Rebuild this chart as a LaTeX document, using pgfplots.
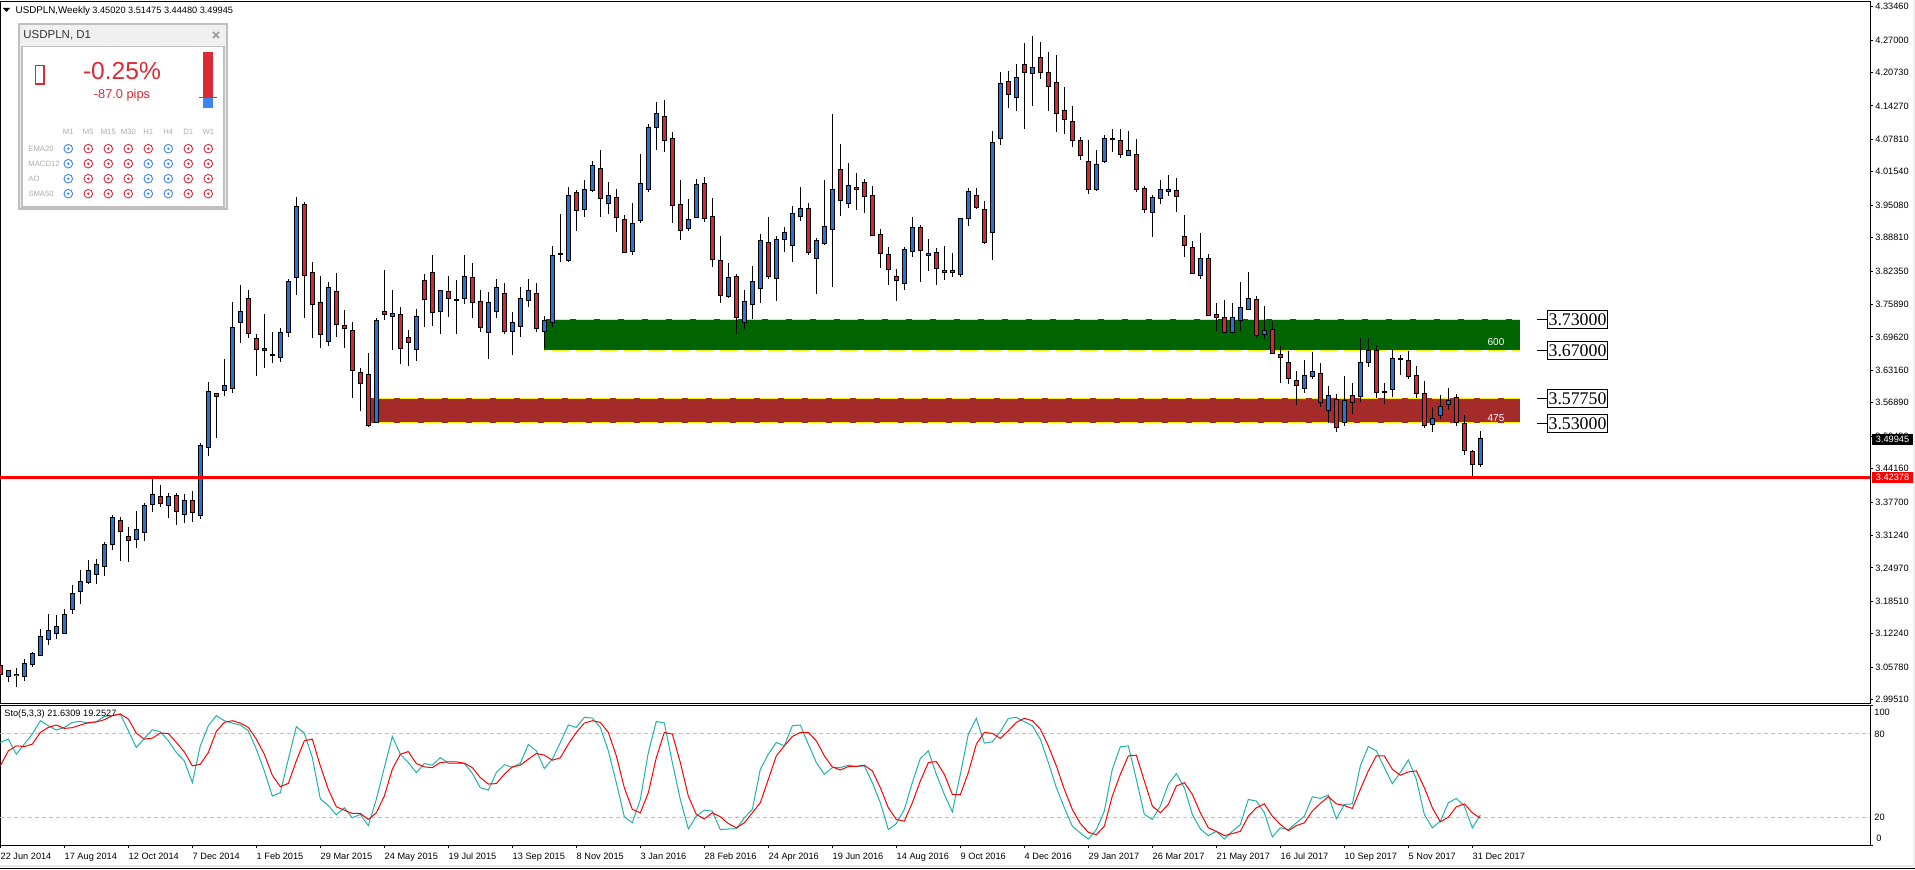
\documentclass[border=0pt]{standalone}
\usepackage{pgfplots}
\usepackage{pgfplotstable}
\usepackage{fontspec}
\pgfplotsset{compat=1.18}
\setmainfont{Liberation Sans}
\newfontfamily\serifbox{Liberation Serif}
\definecolor{cblue}{RGB}{38,115,220}
\definecolor{cred}{RGB}{214,40,50}
\definecolor{sigb}{RGB}{60,134,240}
\definecolor{sigr}{RGB}{224,40,58}
\definecolor{wred}{RGB}{220,42,52}
\definecolor{band1}{RGB}{0,100,0}
\definecolor{band2}{RGB}{165,42,42}
\definecolor{teal2}{RGB}{32,178,170}
\newcommand\tf{\fontsize{4.6}{5.5}\selectfont}
\pgfplotstableread{
k o h l c
1 3.0396 3.0525 3.0299 3.0518
2 3.0415 3.0557 3.0203 3.0441
3 3.0396 3.0731 3.0319 3.0653
4 3.0634 3.0866 3.0589 3.0847
5 3.0808 3.1310 3.0808 3.1175
6 3.1111 3.1607 3.1008 3.1291
7 3.1227 3.1587 3.1130 3.1368
8 3.1227 3.1703 3.1227 3.1600
9 3.1690 3.2167 3.1613 3.2006
10 3.2038 3.2450 3.1806 3.2238
11 3.2212 3.2643 3.2193 3.2450
12 3.2366 3.2669 3.2186 3.2566
13 3.2527 3.2991 3.2347 3.2952
14 3.2946 3.3519 3.2849 3.3474
17 3.3043 3.3596 3.2888 3.3242
18 3.3178 3.3745 3.3023 3.3706
19 3.3719 3.4228 3.3584 3.3918
21 3.3700 3.3938 3.3468 3.3880
23 3.3532 3.3918 3.3371 3.3803
25 3.3513 3.4906 3.3448 3.4868
26 3.4829 3.6091 3.4668 3.5911
28 3.5924 3.6529 3.5827 3.6027
29 3.5963 3.7637 3.5885 3.7148
30 3.7244 3.7959 3.6851 3.7457
34 3.6600 3.7051 3.6465 3.6613
35 3.6568 3.7128 3.6484 3.7051
36 3.7044 3.8075 3.6967 3.8036
37 3.8114 3.9659 3.7779 3.9485
41 3.6877 3.8017 3.6793 3.7920
47 3.5312 3.7321 3.5312 3.7283
49 3.7360 3.7862 3.6716 3.7418
52 3.6716 3.7495 3.6504 3.7360
55 3.7457 3.7862 3.7025 3.7862
58 3.7708 3.8539 3.7605 3.8133
61 3.7051 3.7824 3.6529 3.7631
62 3.7457 3.8075 3.7334 3.7921
64 3.7070 3.7438 3.6620 3.7244
65 3.7167 3.7921 3.6967 3.7708
66 3.7669 3.8075 3.7547 3.7863
68 3.7070 3.7360 3.6742 3.7283
69 3.7244 3.8713 3.7161 3.8539
70 3.8552 3.9331 3.8416 3.8565
71 3.8436 3.9853 3.8416 3.9698
73 3.9427 3.9988 3.9286 3.9814
74 3.9795 4.0355 3.9769 4.0278
76 3.9543 3.9949 3.9344 3.9698
79 3.8616 3.9543 3.8552 3.9157
80 3.9215 4.0490 3.9170 3.9930
81 3.9814 4.1070 3.9769 4.1012
82 4.1012 4.1495 4.0580 4.1282
86 3.9060 3.9621 3.9015 3.9234
87 3.9273 4.0007 3.9273 3.9910
91 3.7747 3.8384 3.7721 3.8114
93 3.7244 3.7863 3.7122 3.7650
94 3.7592 3.8326 3.7302 3.8036
95 3.7901 3.8944 3.7624 3.8829
97 3.8094 3.8906 3.7663 3.8848
98 3.8848 3.9080 3.8610 3.8983
99 3.8732 3.9485 3.8416 3.9350
100 3.9292 3.9853 3.9209 3.9447
102 3.8481 3.8867 3.7798 3.8829
103 3.8771 3.9988 3.8745 3.9099
104 3.9041 4.1263 3.7933 3.9814
106 3.9543 4.0316 3.9460 3.9891
113 3.7998 3.8693 3.7875 3.8655
114 3.8616 3.9273 3.8513 3.9080
116 3.8539 3.8848 3.8243 3.8577
119 3.8210 3.8577 3.8127 3.8249
120 3.8172 3.9254 3.8127 3.9254
121 3.9255 3.9835 3.9114 3.9777
124 3.8985 4.0936 3.8447 4.0724
125 4.0801 4.2076 4.0678 4.1863
127 4.1593 4.2230 4.1335 4.1979
129 4.2057 4.2771 4.1432 4.2173
137 3.9815 4.0569 3.9790 4.0298
138 4.0356 4.0859 4.0331 4.0801
139 4.0781 4.0975 4.0543 4.0801
141 4.0472 4.0936 4.0472 4.0569
144 3.9371 3.9700 3.8901 3.9661
145 3.9642 3.9989 3.9539 3.9815
146 3.9777 4.0086 3.9693 3.9815
150 3.8152 3.8964 3.8088 3.8481
154 3.7051 3.7611 3.7032 3.7341
155 3.7283 3.8017 3.7083 3.7534
156 3.7495 3.8210 3.7495 3.7708
158 3.7012 3.7553 3.6929 3.7090
163 3.5969 3.6510 3.5885 3.6220
164 3.6201 3.6665 3.6156 3.6297
166 3.5544 3.6008 3.5299 3.5834
168 3.5312 3.6201 3.5248 3.5737
170 3.5814 3.6935 3.5711 3.6471
171 3.6471 3.6935 3.6388 3.6703
174 3.5950 3.6703 3.5808 3.6549
179 3.5273 3.5602 3.5132 3.5389
180 3.5447 3.5834 3.5383 3.5621
181 3.5660 3.5969 3.5557 3.5737
185 3.45020 3.51475 3.44480 3.49945
}\upcandles
\pgfplotstableread{
k o h l c
0 3.0615 3.0718 3.0299 3.0428
15 3.3416 3.3481 3.2637 3.3197
16 3.3107 3.3281 3.2618 3.3023
20 3.3880 3.4099 3.3680 3.3738
22 3.3899 3.3938 3.3332 3.3584
24 3.3803 3.3976 3.3390 3.3564
27 3.5872 3.5875 3.5016 3.5808
31 3.7708 3.7862 3.6948 3.7025
32 3.6935 3.7012 3.6214 3.6716
33 3.6742 3.7399 3.6368 3.6697
38 3.9524 3.9563 3.7334 3.8146
39 3.8210 3.8403 3.6948 3.7592
40 3.7631 3.8133 3.6755 3.7012
42 3.7843 3.8191 3.6967 3.7205
43 3.7186 3.7476 3.6755 3.7128
44 3.7090 3.7244 3.5789 3.6317
45 3.6278 3.6355 3.5538 3.6066
46 3.6239 3.6645 3.5228 3.5248
48 3.7457 3.8249 3.7296 3.7399
50 3.7399 3.7534 3.6446 3.6735
51 3.6954 3.7090 3.6407 3.6858
53 3.8056 3.8171 3.7160 3.7688
54 3.8210 3.8539 3.7180 3.7437
56 3.7843 3.8133 3.7354 3.7708
57 3.7688 3.8056 3.7025 3.7669
59 3.8114 3.8384 3.7334 3.7631
60 3.7650 3.7863 3.7064 3.7148
63 3.7805 3.7998 3.7025 3.7070
67 3.7805 3.7998 3.7051 3.7128
72 3.9756 3.9795 3.9015 3.9408
75 4.0220 4.0567 3.9286 3.9640
77 3.9659 3.9814 3.8996 3.9273
78 3.9234 3.9312 3.8597 3.8597
83 4.1224 4.1540 4.0542 4.0761
84 4.0799 4.0915 3.9170 3.9505
85 3.9524 3.9988 3.8841 3.9022
88 3.9930 4.0046 3.9189 3.9254
89 3.9292 3.9640 3.8320 3.8461
90 3.8442 3.8906 3.7624 3.7766
92 3.8133 3.8172 3.7025 3.7334
96 3.8790 3.9273 3.8088 3.8133
101 3.9447 3.9543 3.8552 3.8597
105 4.0200 4.0683 3.9305 3.9601
107 3.9853 4.0123 3.9421 3.9814
108 3.9949 4.0007 3.9363 3.9679
109 3.9698 3.9872 3.8925 3.8925
110 3.8944 3.9041 3.8300 3.8577
111 3.8558 3.8693 3.7972 3.8268
112 3.8133 3.8268 3.7663 3.8056
115 3.9080 3.9118 3.8030 3.8635
117 3.8597 3.8674 3.7972 3.8288
118 3.8249 3.8713 3.8056 3.8210
122 3.9700 3.9835 3.9429 3.9468
123 3.9429 3.9584 3.8766 3.8792
126 4.1902 4.2095 4.1393 4.1651
128 4.2230 4.2636 4.0988 4.2076
130 4.2366 4.2656 4.1954 4.2076
131 4.2076 4.2462 4.1335 4.1805
132 4.1883 4.2404 4.0930 4.1284
133 4.1342 4.1786 4.0891 4.1168
134 4.1129 4.1419 4.0640 4.0762
135 4.0762 4.0820 4.0389 4.0472
136 4.0356 4.0762 3.9732 3.9815
140 4.0762 4.0975 4.0427 4.0492
142 4.0492 4.0781 3.9770 3.9815
143 3.9835 3.9873 3.9365 3.9429
147 3.9796 4.0028 3.9384 3.9680
148 3.8906 3.9318 3.8513 3.8732
149 3.8693 3.8809 3.8191 3.8191
151 3.8481 3.8558 3.7379 3.7379
152 3.7399 3.7611 3.7083 3.7341
153 3.7341 3.7669 3.7032 3.7051
157 3.7688 3.7746 3.6948 3.6993
159 3.7109 3.7263 3.6626 3.6645
160 3.6626 3.6780 3.6078 3.6568
161 3.6471 3.6684 3.6059 3.6162
162 3.6124 3.6297 3.5653 3.6027
165 3.6259 3.6452 3.5615 3.5699
167 3.5756 3.5853 3.5119 3.5216
169 3.5834 3.6066 3.5480 3.5699
172 3.6703 3.6800 3.5789 3.5892
173 3.5911 3.6066 3.5673 3.5892
175 3.6549 3.6613 3.6233 3.6529
176 3.6510 3.6684 3.6156 3.6201
177 3.6220 3.6394 3.5776 3.5872
178 3.5872 3.6104 3.5209 3.5254
182 3.5795 3.5853 3.5248 3.5312
183 3.5293 3.5447 3.4687 3.4771
184 3.4752 3.4771 3.4282 3.4501
}\downcandles
\pgfplotstableread{
k K D
0 73.5 56.7
1 75.9 67.5
2 65.1 71.1
3 72.3 70.6
4 79.5 72.3
5 89.1 80.7
6 85.5 84.3
7 82.4 86.0
8 84.3 83.6
9 87.9 84.1
10 88.6 86.0
11 87.4 87.7
12 88.4 88.2
13 92.2 89.8
14 92.7 92.7
15 93.9 93.9
16 81.9 90.3
17 69.9 80.2
18 76.4 75.9
19 82.6 76.6
20 81.2 80.2
21 74.7 80.0
22 66.3 73.5
23 60.3 66.8
24 44.7 56.7
25 71.1 57.9
26 85.5 66.3
27 92.7 81.4
28 89.1 87.9
29 87.4 89.1
30 86.0 87.4
31 81.9 84.3
32 68.7 75.9
33 53.1 65.1
34 35.1 50.0
35 37.5 41.8
36 61.5 44.2
37 84.8 60.3
38 80.2 74.7
39 62.7 75.9
40 33.1 56.7
41 28.3 39.9
42 21.6 27.4
43 26.7 25.0
44 19.5 22.6
45 21.9 22.6
46 13.9 18.3
47 32.7 23.1
48 55.5 35.1
49 77.8 54.3
50 65.1 65.1
51 59.1 67.0
52 51.9 58.4
53 58.4 56.0
54 57.2 55.5
55 62.7 59.1
56 58.6 59.6
57 58.6 59.6
58 58.6 58.6
59 51.4 55.5
60 41.1 48.3
61 39.4 43.7
62 51.9 44.0
63 57.6 50.7
64 55.7 56.0
65 58.6 57.2
66 72.1 61.5
67 67.5 65.6
68 54.8 64.4
69 61.5 60.8
70 73.5 62.5
71 86.0 72.3
72 84.3 80.7
73 91.5 87.4
74 91.0 89.1
75 84.3 87.9
76 67.5 80.7
77 44.7 63.9
78 20.2 41.1
79 15.9 25.5
80 32.7 23.1
81 66.3 37.5
82 88.6 62.7
83 87.4 80.7
84 59.1 79.5
85 32.7 59.1
86 11.5 35.1
87 20.7 21.9
88 25.0 18.7
89 24.3 23.1
90 11.0 20.2
91 11.5 15.4
92 11.5 12.3
93 19.5 15.9
94 25.5 23.1
95 54.3 30.3
96 65.1 47.1
97 73.5 63.9
98 71.1 71.1
99 85.5 77.8
100 86.0 80.7
101 72.3 80.7
102 59.1 74.7
103 50.7 63.9
104 55.5 56.0
105 55.5 53.8
106 57.2 56.2
107 56.2 56.4
108 56.7 57.2
109 44.7 53.1
110 30.3 41.1
111 11.0 26.7
112 15.4 18.3
113 25.5 17.1
114 44.7 30.3
115 62.0 45.9
116 67.5 59.1
117 50.7 59.8
118 36.3 50.7
119 23.8 36.3
120 50.7 36.0
121 79.5 51.9
122 90.8 72.3
123 73.0 80.7
124 74.0 80.0
125 81.2 76.4
126 90.8 81.9
127 91.5 87.9
128 88.4 90.8
129 85.5 89.1
130 75.9 83.1
131 59.1 71.1
132 41.1 56.7
133 26.7 39.9
134 13.5 25.5
135 8.6 15.4
136 4.3 9.1
137 11.0 7.4
138 24.3 13.5
139 54.3 35.1
140 70.4 50.7
141 71.1 63.9
142 47.1 64.4
143 21.9 45.9
144 18.3 27.9
145 27.9 23.1
146 43.5 29.1
147 51.2 42.3
148 41.1 44.7
149 21.9 36.3
150 11.5 23.1
151 6.7 12.3
152 9.8 9.8
153 4.3 6.7
154 9.8 8.2
155 14.7 9.8
156 32.7 20.7
157 31.5 26.7
158 23.1 29.5
159 5.8 20.7
160 12.3 14.7
161 11.0 10.3
162 15.9 13.9
163 20.7 15.9
164 34.6 24.3
165 33.4 29.8
166 35.8 34.6
167 18.7 29.5
168 29.1 28.3
169 29.5 26.2
170 56.7 39.9
171 70.6 53.1
172 67.5 63.9
173 55.5 63.9
174 44.0 54.3
175 51.9 50.0
176 61.0 52.4
177 47.1 53.1
178 21.9 41.1
179 12.3 26.7
180 17.1 16.6
181 30.3 19.9
182 33.4 27.4
183 27.9 29.5
184 12.3 23.1
185 21.63 19.25
}\stochdata
\newcommand\candles[2]{%
 \addplot[draw=none,forget plot,error bars/.cd,y dir=both,y explicit,error mark=none,
   error bar style={black,line width=0.5pt}]
   table[x=k,y expr={(\thisrow{o}+\thisrow{c})/2},
     y error plus expr={\thisrow{h}-(\thisrow{o}+\thisrow{c})/2},
     y error minus expr={(\thisrow{o}+\thisrow{c})/2-\thisrow{l}}]{#1};
 \addplot[draw=none,forget plot,error bars/.cd,y dir=both,y explicit,error mark=none,
   error bar style={black,line width=2.3pt}]
   table[x=k,y expr={(\thisrow{o}+\thisrow{c})/2},
     y error plus expr={abs(\thisrow{o}-\thisrow{c})/2+0.001},
     y error minus expr={abs(\thisrow{o}-\thisrow{c})/2+0.001}]{#1};
 \addplot[draw=none,forget plot,error bars/.cd,y dir=both,y explicit,error mark=none,
   error bar style={#2,line width=1.35pt}]
   table[x=k,y expr={(\thisrow{o}+\thisrow{c})/2},
     y error plus expr={max(abs(\thisrow{o}-\thisrow{c})/2-0.001,0)},
     y error minus expr={max(abs(\thisrow{o}-\thisrow{c})/2-0.001,0)}]{#1};
}
\begin{document}
\begin{tikzpicture}
\useasboundingbox (0,0) rectangle (957.5pt,434.5pt);
% main price pane
\begin{axis}[
  at={(0pt,82.75pt)},anchor=south west,scale only axis,
  width=935pt,height=350.75pt,
  xmin=-0.04,xmax=233.71,ymin=2.9875,ymax=4.3435,
  axis line style={black,line width=0.5pt},
  xtick=\empty,
  ytick={2.9951,3.0578,3.1224,3.1851,3.2497,3.3124,3.377,3.4416,3.5043,3.5689,3.6316,3.6962,3.7589,3.8235,3.8881,3.9508,4.0154,4.0781,4.1427,4.2073,4.27,4.3346},
  ytick pos=right,yticklabel pos=right,tick align=outside,
  major tick length=1.5pt,
  tick style={black,line width=0.4pt},
  yticklabel style={font=\tf,anchor=west,inner sep=0pt,xshift=1pt,
    /pgf/number format/.cd,fixed,fixed zerofill,precision=5,assume math mode=true},
]
\addplot[fill=band1,draw=none,forget plot] coordinates {(67.96,3.73)(189.96,3.73)(189.96,3.67)(67.96,3.67)} -- cycle;
\addplot[yellow,line width=0.5pt,dash pattern=on 9pt off 3pt,dash phase=8pt,forget plot] coordinates {(67.96,3.73)(189.96,3.73)};
\addplot[yellow,line width=0.5pt,dash pattern=on 9pt off 3pt,dash phase=8pt,forget plot] coordinates {(67.96,3.67)(189.96,3.67)};
\addplot[fill=band2,draw=none,forget plot] coordinates {(46.33,3.5775)(189.96,3.5775)(189.96,3.53)(46.33,3.53)} -- cycle;
\addplot[yellow,line width=0.5pt,dash pattern=on 9pt off 3pt,dash phase=9.5pt,forget plot] coordinates {(46.33,3.5775)(189.96,3.5775)};
\addplot[yellow,line width=0.5pt,dash pattern=on 9pt off 3pt,dash phase=9.5pt,forget plot] coordinates {(46.33,3.53)(189.96,3.53)};
\candles{\upcandles}{cblue}
\candles{\downcandles}{cred}
\addplot[red,line width=1.35pt,forget plot] coordinates {(-0.04,3.42378)(233.71,3.42378)};
\end{axis}
% stochastic pane
\begin{axis}[
  at={(0pt,12pt)},anchor=south west,scale only axis,
  width=935pt,height=69.75pt,
  xmin=-0.04,xmax=233.71,ymin=0,ymax=100,
  axis line style={black,line width=0.5pt},
  xtick={0,8,...,184},
  xticklabels={22 Jun 2014,17 Aug 2014,12 Oct 2014,7 Dec 2014,1 Feb 2015,29 Mar 2015,24 May 2015,19 Jul 2015,13 Sep 2015,8 Nov 2015,3 Jan 2016,28 Feb 2016,24 Apr 2016,19 Jun 2016,14 Aug 2016,9 Oct 2016,4 Dec 2016,29 Jan 2017,26 Mar 2017,21 May 2017,16 Jul 2017,10 Sep 2017,5 Nov 2017,31 Dec 2017},
  xtick pos=bottom,tick align=outside,major tick length=1.5pt,
  xticklabel style={font=\tf,anchor=north west,inner sep=0pt,yshift=-2.2pt},
  ytick={0,100},yticklabels={},ytick pos=right,
  tick style={black,line width=0.4pt},
]
\addplot[black!25,line width=0.5pt,dash pattern=on 2pt off 1.5pt,forget plot] coordinates {(-0.04,80)(233.71,80)};
\addplot[black!25,line width=0.5pt,dash pattern=on 2pt off 1.5pt,forget plot] coordinates {(-0.04,20)(233.71,20)};
\addplot[teal2,line width=0.5pt,forget plot] table[x=k,y=K]{\stochdata};
\addplot[red,line width=0.5pt,forget plot] table[x=k,y=D]{\stochdata};
\end{axis}
% annotation in pixel coordinates
\begin{scope}[x=0.5pt,y=-0.5pt,yshift=434.5pt]
\fill[black] (3,8) -- (10,8) -- (6.5,12) -- cycle;
\node[anchor=west,inner sep=0pt,font=\fontsize{4.9}{6}\selectfont] at (15.3,10.5) {USDPLN,Weekly};
\node[anchor=west,inner sep=0pt,font=\tf] at (92,10.5) {3.45020 3.51475 3.44480 3.49945};
\node[anchor=west,inner sep=0pt,font=\tf] at (4,714) {Sto(5,3,3) 21.6309 19.2527};
\node[anchor=west,inner sep=0pt,font=\tf] at (1874,712) {100};
\node[anchor=west,inner sep=0pt,font=\tf] at (1874,734.3) {80};
\node[anchor=west,inner sep=0pt,font=\tf] at (1874,817.3) {20};
\node[anchor=west,inner sep=0pt,font=\tf] at (1876,838.3) {0};
\node[text=white,inner sep=0pt,font=\fontsize{5}{6}\selectfont] at (1496,342) {600};
\node[text=white,inner sep=0pt,font=\fontsize{5}{6}\selectfont] at (1496,418.3) {475};
% level call-outs
\foreach \yy/\tt in {319.3/3.73000,350.3/3.67000,398.3/3.57750,423.3/3.53000}{
  \draw[black,line width=0.5pt] (1537,\yy) -- (1547.3,\yy);
  \draw[black,line width=0.5pt,fill=white] (1547.3,\yy-9) rectangle (1607.7,\yy+9);
  \node[inner sep=0pt,font=\serifbox\fontsize{8.9}{10}\selectfont] at (1577.5,\yy) {\tt};
}
% last price tags
\fill[black] (1872,434) rectangle (1913,445);
\node[text=white,inner sep=0pt,font=\tf] at (1892.5,439.5) {3.49945};
\fill[red] (1872,472) rectangle (1913,483);
\node[text=white,inner sep=0pt,font=\tf] at (1892.5,477.8) {3.42378};
% window edges
\fill[black!6] (1913,0) rectangle (1915,869);
\fill[black!10] (0,865) rectangle (1913,867);
\draw[black,line width=0.5pt] (0,868) -- (1915,868);
% widget
\draw[black!25,line width=1pt,fill=black!6] (19,24.5) rectangle (227,209.5);
\draw[black!25,line width=0.7pt,fill=white] (22,46.5) rectangle (224,207);
\node[anchor=west,inner sep=0pt,text=black!80,font=\fontsize{5.75}{7}\selectfont] at (23,35) {USDPLN, D1};
\draw[black!40,line width=0.8pt] (213,32) -- (219,38) (213,38) -- (219,32);
\draw[wred,line width=0.7pt] (35.5,65.5) rectangle (44,84);
\node[text=wred,inner sep=0pt,font=\fontsize{12.3}{14}\selectfont] at (122,71) {-0.25\%};
\node[text=wred,inner sep=0pt,font=\fontsize{6.4}{8}\selectfont] at (122,95.5) {-87.0 pips};
\fill[wred] (203,52) rectangle (213,97.5);
\fill[sigb] (203,97.5) rectangle (213,108);
\draw[wred,line width=0.5pt] (199,97.5) -- (217,97.5);
\foreach \n [count=\i from 0] in {M1,M5,M15,M30,H1,H4,D1,W1}{
  \node[text=black!32,inner sep=0pt,font=\fontsize{3.85}{5}\selectfont] at (68.3+20*\i,132) {\n};
}
\foreach \yy/\n/\row in {148.7/EMA20/{b,r,r,r,r,b,r,r},163.7/MACD12/{b,r,r,r,b,b,r,r},178.7/AO/{b,r,r,r,b,b,r,r},193.7/SMA50/{b,r,r,r,b,b,r,r}}{
  \node[anchor=west,text=black!32,inner sep=0pt,font=\fontsize{3.85}{5}\selectfont] at (28,\yy) {\n};
  \foreach \c [count=\i from 0] in \row {
    \draw[color=sig\c,line width=0.45pt] (68.3+20*\i,\yy) circle[radius=2.15pt];
    \fill[color=sig\c] (68.3+20*\i,\yy) circle[radius=0.65pt];
  }
}
\end{scope}
\end{tikzpicture}
\end{document}
